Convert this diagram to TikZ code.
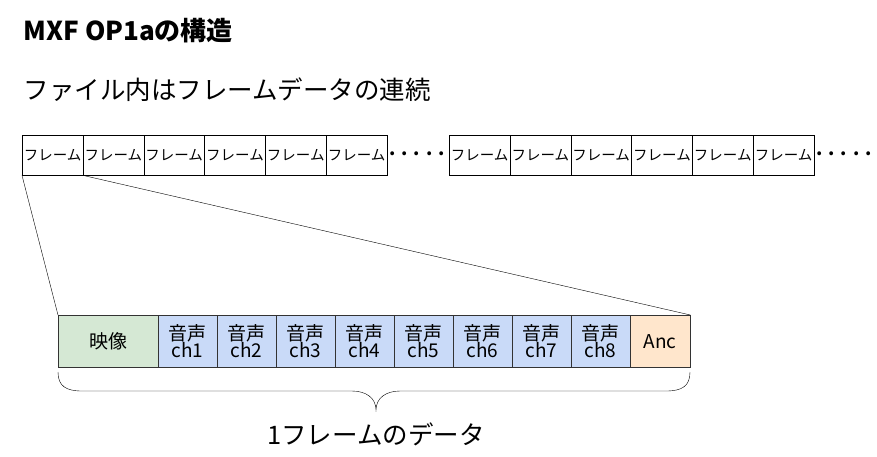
\documentclass[tikz,border=0pt]{standalone}
\usepackage{fontspec}
\setmainfont{Noto Sans CJK JP}
\begin{document}
\begin{tikzpicture}[x=1pt,y=-1pt,
  fr/.style={draw,minimum width=60.7pt,minimum height=40pt,inner sep=0pt,anchor=north west,font=\fontsize{14.5}{15}\selectfont},
  au/.style={draw=black!80,fill=audiob,minimum width=58.9pt,minimum height=52pt,inner sep=0pt,anchor=north west,font=\fontsize{19}{20}\selectfont,align=center},
  dots/.style={font=\fontsize{18}{18}\selectfont\bfseries,inner sep=0pt}]
\definecolor{audiob}{HTML}{C9DAF8}
\definecolor{vidg}{HTML}{D5E8D4}
\definecolor{ancor}{HTML}{FFE6CC}
\useasboundingbox (0,0) rectangle (877,456);
\node[anchor=west,font=\fontsize{26}{28}\selectfont\bfseries] (t) at (20,31) {MXF OP1aの構造};
\node[anchor=west,font=\fontsize{25.5}{27}\selectfont] (s) at (20,90) {ファイル内はフレームデータの連続};
\foreach \i in {0,...,5}{
  \node[fr] (a\i) at ({22+60.8*\i},135) {フレーム};
  \node[fr] (b\i) at ({449+60.8*\i},135) {フレーム};
}
\node[dots,anchor=west] (d1) at (389,154) {.\,\,.\,\,.\,\,.\,\,.};
\node[dots,anchor=west] (d2) at (816,154) {.\,\,.\,\,.\,\,.\,\,.};
\node[draw=black!80,fill=vidg,minimum width=100pt,minimum height=52pt,inner sep=0pt,anchor=north west,font=\fontsize{19}{20}\selectfont] (v) at (58,315) {映像};
\foreach \i in {1,...,8}{
  \node[au] (c\i) at ({158+59*(\i-1)},315) {音声\\[-3pt]ch\i};
}
\node[draw=black!80,fill=ancor,minimum width=60pt,minimum height=52pt,inner sep=0pt,anchor=north west,font=\fontsize{19}{20}\selectfont] (anc) at (630,315) {Anc};
\draw (a0.south west) -- (v.north west);
\draw (a0.south east) -- (anc.north east);
\coordinate (bl) at (58,372); \coordinate (br) at (690,372); \coordinate (tip) at (376,410);
\draw (bl) .. controls (58,386) and (66,391) .. (82,391) -- (352,391) .. controls (366,391) and (376,398) .. (tip)
      .. controls (376,398) and (386,391) .. (400,391) -- (666,391) .. controls (682,391) and (690,386) .. (br);
\node[font=\fontsize{25.5}{27}\selectfont] (lab) at (376,434) {1フレームのデータ};
\end{tikzpicture}
\end{document}
